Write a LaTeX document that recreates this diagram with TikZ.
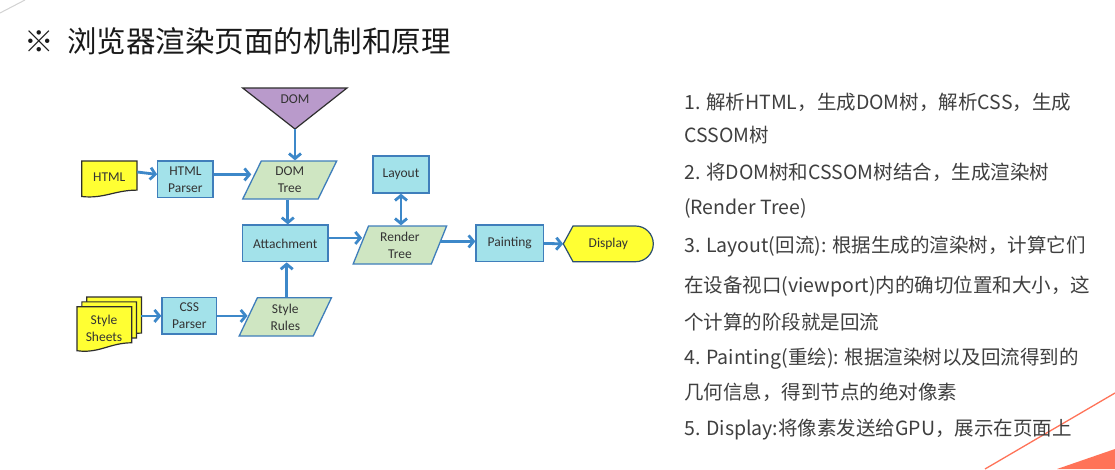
\documentclass[tikz,border=0pt]{standalone}
\usepackage{fontspec}
\setmainfont{Noto Sans CJK SC}
\newfontfamily\calib{Carlito}
\usetikzlibrary{shapes.geometric,arrows.meta,calc}
\definecolor{boxfill}{HTML}{A3E2EA}
\definecolor{boxline}{HTML}{3F7EBB}
\definecolor{parfill}{HTML}{CFE6C2}
\definecolor{yel}{HTML}{FFFF33}
\definecolor{arr}{HTML}{3D88C9}
\definecolor{purp}{HTML}{B99ACB}
\definecolor{txt}{HTML}{333333}
\definecolor{body}{HTML}{3F3F3F}
\definecolor{orng}{HTML}{FF7358}
\definecolor{docline}{HTML}{2E2E2E}
\definecolor{displine}{HTML}{2B4E70}
\tikzset{
  lbl/.style={font=\calib\fontsize{13.5}{17}\selectfont, text=txt, align=center, inner sep=0pt},
  proc/.style={lbl, draw=boxline, fill=boxfill, line width=1.3pt},
  para/.style={lbl, trapezium, trapezium left angle=70, trapezium right angle=110,
    trapezium stretches=true, draw=boxline, fill=parfill, line width=1.3pt},
  doc/.style={draw=docline, fill=yel, line width=1.2pt},
  flow/.style={draw=arr, line width=2.8pt, -{Straight Barb[length=5pt,width=12pt]}},
  bflow/.style={draw=arr, line width=2.8pt, {Straight Barb[length=5pt,width=12pt]}-{Straight Barb[length=5pt,width=12pt]}},
  para text/.style={anchor=base west, inner sep=0pt, text=body, font=\fontsize{19.5}{24}\selectfont},
}
\newcommand\docshp[4]{% x0 y0 w h
  \path[doc] (#1,#2) -- ({#1+#3},#2) -- ({#1+#3},{#2+0.82*#4})
    .. controls ({#1+0.6*#3},{#2+0.82*#4}) and ({#1+0.4*#3},{#2+1.07*#4}) .. (#1,{#2+#4}) -- cycle;}
\begin{document}
\begin{tikzpicture}[x=1pt,y=-1pt]
\useasboundingbox (0,0) rectangle (1115,469);
\fill[white] (0,0) rectangle (1115,469);
% faint decoration
\draw[gray!35, line width=1pt] (0,13) -- (25,0);
% orange decoration
\draw[orng, line width=1.3pt] (985,469) -- (1115,393);
\fill[orng] (1057,469) -- (1115,449) -- (1115,469) -- cycle;

% title
\node[anchor=base west, inner sep=0pt, text=black!90, font=\fontsize{29.5}{34}\selectfont] (mark) at (24,52.9) {※};
\node[anchor=base west, inner sep=0pt, text=black!90, font=\fontsize{29.5}{34}\selectfont] (title) at (67,52.9) {浏览器渲染页面的机制和原理};

% DOM triangle
\path[draw=docline, fill=purp, line width=1.2pt] (242.7,88) -- (347,88) -- (295,129) -- cycle;
\node[lbl] (dom) at (295,99.5) {DOM};
\coordinate (domtip) at (295,129);

% HTML document
\docshp{81.7}{161}{55.3}{35.5}
\node[lbl, minimum width=55.3pt, minimum height=32pt] (html) at (109.3,177) {HTML};

% Style sheets stack
\docshp{86.7}{297}{54.7}{44}
\docshp{81.85}{301.85}{54.7}{44}
\docshp{77}{306.7}{54.7}{44}
\node[lbl, minimum width=64pt, minimum height=50pt] (ss) at (109,324) {};
\node[lbl] (sstext) at (104,328.7) {Style\\Sheets};

% process boxes
\node[proc, minimum width=55.3pt, minimum height=36.7pt] (hp) at (185.4,179.4) {HTML\\Parser};
\node[proc, minimum width=85.3pt, minimum height=36.7pt] (att) at (285.3,243.4) {Attachment};
\node[proc, minimum width=54.7pt, minimum height=36.3pt] (css) at (189.3,315.9) {CSS\\Parser};
\node[proc, minimum width=56pt, minimum height=37pt] (lay) at (401,174.5) {Layout};
\node[proc, minimum width=67.3pt, minimum height=36.7pt] (pnt) at (509.7,243.4) {Painting};

% parallelograms
\node[para, minimum width=94pt, minimum height=38pt] (dt) at (289.7,180) {DOM\\Tree};
\node[para, minimum width=92.7pt, minimum height=38.3pt] (sr) at (285.3,316.9) {Style\\Rules};
\node[para, minimum width=93.7pt, minimum height=38pt] (rt) at (399.9,245) {Render\\Tree};

% Display terminal
\path[draw=displine, fill=yel, line width=1.2pt] (563.3,243.85) -- (573,226) -- (635.5,226)
  .. controls (645.4,226) and (653.3,234) .. (653.3,243.85)
  .. controls (653.3,253.7) and (645.4,261.7) .. (635.5,261.7)
  -- (573,261.7) -- cycle;
\node[lbl, minimum width=90pt, minimum height=35.7pt] (disp) at (608.3,243.85) {Display};

% connectors
\draw[flow] (domtip) -- (domtip |- dt.north);
\draw[flow] ([yshift=5pt]html.east) -- ([yshift=5pt]hp.west);
\draw[flow] ([yshift=5pt]hp.east) -- ([yshift=5pt]hp.east -| dt.west);
\draw[flow] ([xshift=2.5pt]att.north |- dt.south) -- ([xshift=2.5pt]att.north);
\draw[flow] ([xshift=1.4pt]att.south |- sr.north) -- ([xshift=1.4pt]att.south);
\draw[flow] ([yshift=5.5pt]att.east) -- ([yshift=5.5pt,xshift=2pt]att.east -| rt.west);
\draw[bflow] (lay.south) -- (lay.south |- rt.north);
\draw[flow] ([yshift=2pt]pnt.west -| rt.east) -- ([yshift=2pt]pnt.west);
\draw[flow] (pnt.east) -- (disp.west);
\draw[flow] (css.west -| ss.east) -- (css.west);
\draw[flow] (css.east) -- (css.east -| sr.west);

% explanatory text
\node[para text] (l1) at (684,109) {1. 解析HTML，生成DOM树，解析CSS，生成};
\node[para text] (l2) at (684,142.4) {CSSOM树};
\node[para text] (l3) at (684,179) {2. 将DOM树和CSSOM树结合，生成渲染树};
\node[para text] (l4) at (684,214) {(Render Tree)};
\node[para text] (l5) at (684,252.4) {3. Layout(回流): 根据生成的渲染树，计算它们};
\node[para text] (l6) at (684,292.4) {在设备视口(viewport)内的确切位置和大小，这};
\node[para text] (l7) at (684,329) {个计算的阶段就是回流};
\node[para text] (l8) at (684,364) {4. Painting(重绘): 根据渲染树以及回流得到的};
\node[para text] (l9) at (684,399) {几何信息，得到节点的绝对像素};
\node[para text] (l10) at (684,435.7) {5. Display:将像素发送给GPU，展示在页面上};
\end{tikzpicture}
\end{document}
